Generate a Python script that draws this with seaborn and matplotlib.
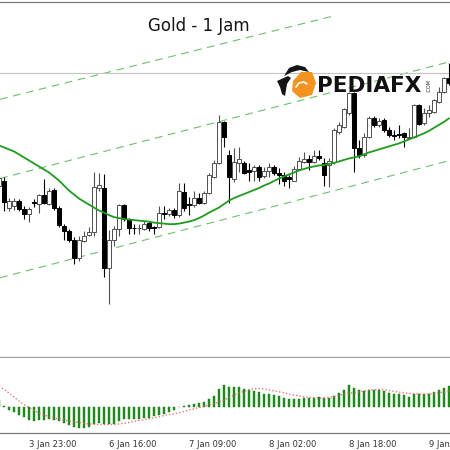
import numpy as np
import pandas as pd
import matplotlib
matplotlib.use("Agg")
import matplotlib.pyplot as plt
from matplotlib.patches import Polygon
import seaborn as sns

# ---------------- data ----------------
title_text = "Gold - 1 Jam"
tick_bars = [6, 22, 38, 54, 70, 86]
tick_labels = ["3 Jan 23:00", "6 Jan 16:00", "7 Jan 09:00",
               "8 Jan 02:00", "8 Jan 18:00", "9 Jan 11:00"]

opens = [1615, 1620, 1593, 1595, 1600, 1592, 1587, 1598, 1597, 1606, 1597, 1611, 1593, 1575, 1570, 1561,
         1543, 1560, 1566, 1569, 1613, 1613, 1533, 1561, 1572, 1596, 1582, 1573, 1572.5, 1572, 1578,
         1574, 1574, 1588, 1587, 1591, 1586, 1609, 1596, 1596, 1603, 1598, 1608, 1623, 1637, 1678,
         1645, 1621, 1637, 1637, 1630, 1629, 1633, 1624, 1629, 1633, 1627, 1625, 1623, 1620, 1631,
         1638, 1641, 1638, 1644, 1637, 1635, 1638, 1668, 1673, 1687, 1707, 1652, 1645, 1663, 1682,
         1675, 1680, 1670, 1665, 1666, 1667, 1662.5, 1663, 1695, 1677, 1687, 1688, 1698, 1708, 1722]
highs = [1625, 1623, 1603, 1603, 1602, 1595, 1594, 1602, 1607, 1621, 1613, 1613, 1595, 1577, 1572, 1564,
         1565, 1570, 1574, 1628, 1627, 1626, 1571, 1575, 1597, 1597, 1583, 1577, 1577, 1580, 1580,
         1575, 1595, 1595, 1593, 1593, 1618, 1618, 1604, 1610, 1608, 1610, 1627, 1640, 1685, 1679,
         1650, 1652, 1653, 1639, 1637, 1635, 1635, 1633, 1637, 1635, 1632, 1628, 1625, 1634, 1643,
         1648, 1645, 1650, 1650, 1642, 1642, 1672, 1678, 1692, 1708, 1708, 1660, 1667, 1684, 1684,
         1682, 1682, 1673, 1670, 1675, 1668, 1672, 1696, 1696, 1692, 1695, 1701, 1713, 1723, 1737]
lows = [1612, 1590, 1590, 1591, 1590, 1582, 1579, 1594, 1588, 1597, 1596, 1591, 1574, 1561, 1559, 1537,
        1540, 1559, 1565, 1565, 1610, 1524, 1497, 1555, 1565, 1580, 1567, 1567, 1567, 1571, 1570,
        1567, 1573, 1582, 1585, 1583, 1584, 1590, 1586, 1594, 1597, 1597, 1607, 1622, 1636, 1653,
        1598, 1619, 1628, 1626, 1620, 1620, 1620, 1622, 1623, 1625, 1617, 1615, 1613, 1620, 1630,
        1637, 1630, 1637, 1640, 1615, 1614, 1636, 1666, 1672, 1685, 1628, 1642, 1643, 1662, 1673,
        1673, 1668, 1663, 1660, 1662, 1653, 1662, 1662, 1675, 1675, 1683, 1687, 1697, 1707, 1715]
closes = [1622, 1599, 1600, 1600, 1592, 1587, 1592, 1597.5, 1606, 1598, 1610, 1593, 1576, 1570, 1561, 1543,
          1561, 1565, 1569, 1614, 1616, 1533, 1561, 1572, 1596, 1582, 1573, 1572.5, 1573, 1577, 1573,
          1572.5, 1588, 1586.5, 1591, 1586, 1610, 1593, 1595.5, 1603, 1598, 1608, 1625, 1637, 1678, 1663,
          1623, 1638, 1641, 1627, 1628, 1633, 1623, 1629, 1633, 1627, 1625, 1620, 1621, 1631, 1639,
          1641, 1638, 1644, 1642.5, 1625, 1639, 1670, 1675, 1691, 1707, 1652, 1645, 1663, 1682, 1675,
          1679, 1670, 1665, 1664, 1665.5, 1663, 1663.5, 1695, 1676, 1687, 1690, 1700, 1708, 1722, 1717]

moving_avg = [1655, 1653, 1651, 1649, 1646, 1643, 1640, 1637, 1634, 1631, 1628, 1624, 1620, 1615, 1610,
              1606, 1602, 1599, 1596, 1593, 1590, 1588, 1585.5, 1583.5, 1582.5, 1581.5, 1581, 1580.5,
              1580, 1579.5, 1579, 1578, 1577.5, 1577, 1576.5, 1576.5, 1577, 1578, 1579, 1580.5, 1582.5,
              1585, 1588, 1590.5, 1593, 1596.5, 1600, 1602.5, 1604.5, 1606.5, 1608.5, 1610.5, 1612.5,
              1615, 1617, 1619.5, 1622, 1624, 1626, 1628, 1630, 1631.5, 1633, 1634, 1635, 1635.5,
              1636.5, 1637.5, 1639, 1640.5, 1642, 1643, 1644, 1646, 1648, 1649.5, 1651, 1652.5, 1654,
              1655.5, 1657, 1659, 1661, 1663, 1665, 1667, 1669.5, 1672.5, 1675.5, 1678.5, 1682]

channel_start_bar = [0.2, 0.2, 0.2]
channel_end_bar = [66.6, 90.2, 90.2]
channel_start_price = [1701, 1622, 1523]
channel_end_price = [1783.7, 1738.5, 1640]
level_price = 1727

macd_hist = [6.7, 0.7, -2.5, -4.5, -7.5, -10, -12.5, -13.5, -13, -12.5, -12, -12.5, -14, -15.5, -17.5,
             -19.5, -20.5, -20.5, -20, -17, -15.5, -17, -17, -17, -14, -12, -11.5, -11.5, -11.5, -11,
             -10.5, -9.3, -7.7, -6.7, -5, -3.3, 0.5, 1, 2, 3, 3.7, 5, 7.7, 11, 17.7, 21.7, 19.7, 19.7,
             19.7, 18.3, 16.7, 16, 14.7, 13.3, 12.7, 11.7, 11, 9, 7.7, 7.7, 8.3, 9.3, 9, 9.3, 10, 9, 9,
             11.3, 14, 17.3, 21.7, 19.3, 16.7, 15.7, 17.3, 17.3, 16.7, 16, 14.3, 13.3, 12.7, 11.7, 10,
             13.3, 13.3, 13.3, 12.7, 14.7, 16.7, 19.3, 20.7]
macd_signal = [21, 17.5, 14, 10, 6, 2.5, -0.5, -3.5, -6, -8, -9.5, -11, -12, -13, -14, -14.7, -15.5,
               -16.3, -17, -17.3, -17.5, -17.5, -17.5, -17.3, -17, -16.3, -15.5, -14.5, -13.5, -12.7,
               -11.8, -10.8, -9.8, -8.5, -7.5, -6.7, -5.8, -4.5, -3, -1.8, -0.5, 0.7, 2, 3.5, 5, 7, 9.5,
               12, 14, 15.7, 17.3, 18.3, 18.5, 18, 17, 16.2, 15.2, 14.2, 13, 12, 11, 10.3, 9.7, 9.3, 9,
               9.2, 9.6, 10.5, 11.7, 12.8, 13.7, 14.4, 15.2, 16, 16.8, 17.3, 17.6, 17.3, 16.5, 15.7,
               14.8, 14.2, 13.7, 13.3, 13, 13, 13, 13.4, 14.2, 15, 15.7]

# ---------------- figure ----------------
sns.set_style("white")
plt.rcParams["font.family"] = ["DejaVu Sans"]

W = H = 450
fig = plt.figure(figsize=(4.5, 4.5), dpi=100)
fig.patch.set_facecolor("white")

def frac_box(top_px, bottom_px):
    return [0, 1 - bottom_px / H, 1, (bottom_px - top_px) / H]

ax = fig.add_axes(frac_box(2, 358))
axm = fig.add_axes(frac_box(358, 433))

df = pd.DataFrame({"bar": np.arange(len(opens)), "open": opens, "high": highs,
                   "low": lows, "close": closes})
xlim = (0.2, 90.2)

# channel lines
for sb, eb, sp, ep in zip(channel_start_bar, channel_end_bar, channel_start_price, channel_end_price):
    ax.plot([sb, eb], [sp, ep], color="#6cc06c", lw=0.8, ls=(0, (7, 5)), zorder=1)
ax.axhline(level_price, color="#c4c4c4", lw=0.8, zorder=1)

# candles
bull = df["close"] >= df["open"]
for is_bull, fc, ec in [(True, "white", "#505050"), (False, "black", "black")]:
    d = df[bull == is_bull]
    ax.vlines(d["bar"], d["low"], d["high"], color=ec, lw=0.8, zorder=2)
    bottom = np.minimum(d["open"], d["close"])
    height = np.maximum(np.abs(d["close"] - d["open"]), 0.6)
    ax.bar(d["bar"], height, bottom=bottom, width=0.62, color=fc, edgecolor=ec,
           linewidth=0.7, zorder=3)

# moving average
sns.lineplot(x=np.arange(len(moving_avg)), y=moving_avg, ax=ax, color="#1f9a1f", lw=1.3, zorder=4)

ax.set_xlim(*xlim)
ax.set_ylim(1443, 1798)
ax.set_xticks([])
ax.set_yticks([])
for s in ["left", "right"]:
    ax.spines[s].set_visible(False)
ax.spines["top"].set_color("#7a7a7a")
ax.spines["top"].set_linewidth(0.9)
ax.spines["bottom"].set_color("#9c9c9c")
ax.spines["bottom"].set_linewidth(1.6)
ax.set_xlabel("")
ax.set_ylabel("")

# MACD panel
axm.bar(np.arange(len(macd_hist)), macd_hist, width=0.55, color="#1e901e",
        edgecolor="#177a17", linewidth=0.3, zorder=2)
sns.lineplot(x=np.arange(len(macd_signal)), y=macd_signal, ax=axm, color="#f05a5a",
             lw=1.0, ls=(0, (1, 1.5)), alpha=0.85, zorder=3)
axm.set_xlim(*xlim)
axm.set_ylim(-26, 49)
axm.set_yticks([])
axm.set_xticks(tick_bars)
axm.set_xticklabels(tick_labels, fontsize=6, color="#333333", ha="left")
axm.tick_params(axis="x", direction="out", length=3.5, width=0.8, color="#808080", pad=1.5)
for s in ["left", "right", "top"]:
    axm.spines[s].set_visible(False)
axm.spines["bottom"].set_color("#7a7a7a")
axm.spines["bottom"].set_linewidth(0.9)
axm.set_xlabel("")
axm.set_ylabel("")

# overlay in pixel coordinates for title and logo
ov = fig.add_axes([0, 0, 1, 1], zorder=10)
ov.set_xlim(0, W)
ov.set_ylim(H, 0)
ov.axis("off")
ov.patch.set_alpha(0)

ov.text(199, 26, title_text, fontsize=12, color="#151515", ha="center", va="center")

# logo
ov.add_patch(Polygon([(293, 81), (301, 72), (312, 72), (316, 83), (312, 95), (300, 98), (292, 91)],
                     closed=True, facecolor="#f39320", edgecolor="none"))
ov.plot([296, 299, 304, 307], [87, 83, 82, 84], color="white", lw=1.2, solid_capstyle="round")
ov.add_patch(Polygon([(284, 76), (289, 68), (297, 65), (305, 67), (309, 72), (300, 70), (292, 72)],
                     closed=True, facecolor="#151515", edgecolor="none"))
ov.add_patch(Polygon([(277, 81), (288, 76), (291, 78), (287, 84), (285, 96), (282, 94), (280, 87)],
                     closed=True, facecolor="#151515", edgecolor="none"))
ov.text(317, 91.5, "PEDIAFX", fontsize=15.5, fontweight="bold", color="#111111",
        ha="left", va="baseline")
ov.text(429, 86, ".COM", fontsize=3.5, color="#222222", rotation=90, ha="center", va="center")

fig.savefig("out.png", dpi=100, facecolor="white")
